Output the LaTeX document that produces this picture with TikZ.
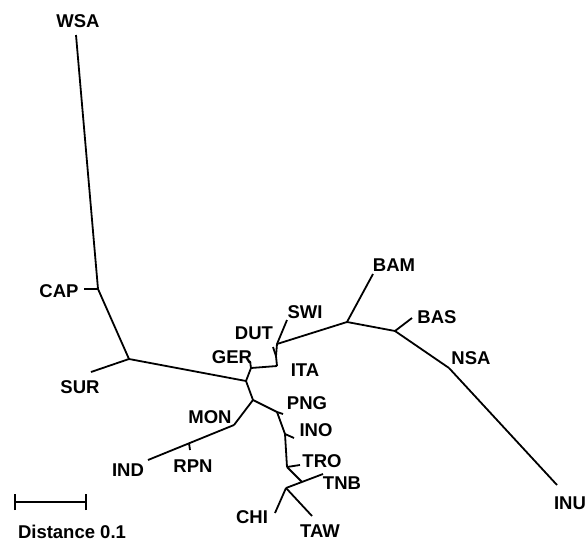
\documentclass[tikz,border=0pt]{standalone}
\usepackage{fontspec}
\setmainfont{Liberation Sans}
\usetikzlibrary{positioning}

\begin{document}
\begin{tikzpicture}[x=1pt,y=-1pt,
  every edge/.style={draw,line width=1.8pt,line join=round},
  pop/.style={font=\fontsize{18.5}{20}\selectfont\bfseries,inner sep=0pt}]
  \useasboundingbox (0,0) rectangle (587,544);
  % inner branch points
  \coordinate (r) at (246,381);   \coordinate (jsur) at (129,359);  \coordinate (jcap) at (98,289);
  \coordinate (jger) at (251,368); \coordinate (jita) at (277,366); \coordinate (jdut) at (276,356);
  \coordinate (jswi) at (277,344); \coordinate (jbam) at (347,322); \coordinate (jbas) at (395,331);
  \coordinate (jnsa) at (449,368);
  \coordinate (jmon) at (253,400); \coordinate (jind) at (234,425); \coordinate (jrpn) at (189,443);
  \coordinate (jpng) at (277,412); \coordinate (jino) at (285,434); \coordinate (jtro) at (287,467);
  \coordinate (jtnb) at (302,482); \coordinate (jchi) at (286,488);
  % tips
  \coordinate (twsa) at (76,35);   \coordinate (tcap) at (84,289);   \coordinate (tsur) at (91,372);
  \coordinate (tger) at (250,361); \coordinate (tdut) at (273,347);  \coordinate (tswi) at (287,320);
  \coordinate (tbam) at (373,274); \coordinate (tbas) at (412,318);  \coordinate (tinu) at (557,485);
  \coordinate (tind) at (148,460); \coordinate (trpn) at (190,450);  \coordinate (tpng) at (283,414);
  \coordinate (tino) at (294,438); \coordinate (ttro) at (300,465);  \coordinate (ttnb) at (323,474);
  \coordinate (tchi) at (275,513); \coordinate (ttaw) at (312,516);
  % labels
  \node[pop] (wsa) at (78,21) {WSA};   \node[pop] (cap) at (59,291) {CAP};
  \node[pop] (sur) at (80,387) {SUR};  \node[pop] (ger) at (232,357) {GER};
  \node[pop] (dut) at (254,333) {DUT}; \node[pop] (swi) at (305,312) {SWI};
  \node[pop] (ita) at (305,370) {ITA}; \node[pop] (bam) at (394,265) {BAM};
  \node[pop] (bas) at (437,317) {BAS}; \node[pop] (nsa) at (471,358) {NSA};
  \node[pop] (inu) at (570,503) {INU}; \node[pop] (png) at (307,403) {PNG};
  \node[pop] (mon) at (210,417) {MON}; \node[pop] (ino) at (316,430) {INO};
  \node[pop] (tro) at (322,461) {TRO}; \node[pop] (tnb) at (342,483) {TNB};
  \node[pop] (chi) at (252,517) {CHI}; \node[pop] (taw) at (320,531) {TAW};
  \node[pop] (rpn) at (193,466) {RPN}; \node[pop] (ind) at (128,470) {IND};
  \node[pop] (dist) at (72,532) {Distance 0.1};
  % tree
  \path (r) edge (jsur);  \path (jsur) edge (tsur);  \path (jsur) edge (jcap);
  \path (jcap) edge (tcap);  \path (jcap) edge (twsa);
  \path (r) edge (jger);  \path (jger) edge (tger);  \path (jger) edge (jita);
  \path (jita) edge (jdut);  \path (jdut) edge (tdut);  \path (jdut) edge (jswi);
  \path (jswi) edge (tswi);  \path (jswi) edge (jbam);  \path (jbam) edge (tbam);
  \path (jbam) edge (jbas);  \path (jbas) edge (tbas);  \path (jbas) edge (jnsa);
  \path (jnsa) edge (tinu);
  \path (r) edge (jmon);  \path (jmon) edge (jind);  \path (jind) edge (tind);
  \path (jrpn) edge (trpn);
  \path (jmon) edge (jpng);  \path (jpng) edge (tpng);  \path (jpng) edge (jino);
  \path (jino) edge (tino);  \path (jino) edge (jtro);  \path (jtro) edge (ttro);
  \path (jtro) edge (jtnb);  \path (jchi) edge (ttnb);  \path (jchi) edge (tchi);
  \path (jchi) edge (ttaw);
  % scale bar
  \coordinate (sb1) at (15,502);  \coordinate (sb2) at (86,502);
  \path (sb1) edge (sb2);
  \path ([yshift=-8pt]sb1) edge ([yshift=8pt]sb1);
  \path ([yshift=-8pt]sb2) edge ([yshift=8pt]sb2);
\end{tikzpicture}
\end{document}
